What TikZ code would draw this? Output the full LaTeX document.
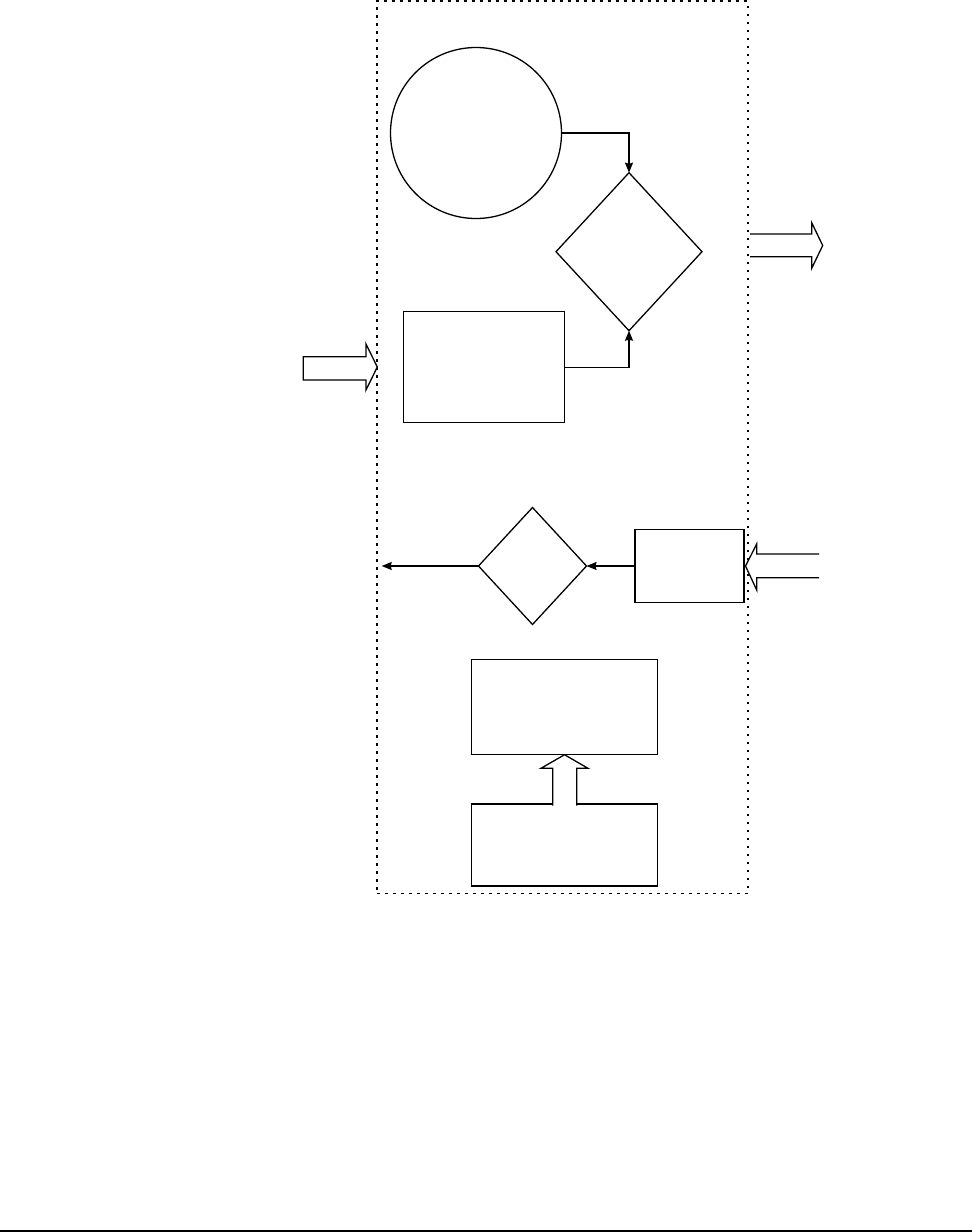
\documentclass[tikz,border=0pt]{standalone}
\usetikzlibrary{arrows.meta,shapes.geometric}

\begin{document}
\begin{tikzpicture}[
        x=1pt, y=-1pt,
        every node/.style = {outer sep=0pt, inner sep=0pt, line width=1.3pt},
        blockbox/.style = {rectangle, draw},
        decision/.style = {diamond, draw},
        frame/.style = {rectangle, draw, line width=1.5pt, dash pattern=on 2.5pt off 5.5pt},
        arrow/.style = {-{Stealth[length=10pt, width=8pt, inset=1pt]}, line width=1.3pt},
        bigarrow/.style = {draw, fill=white, line width=1.3pt}
        ]
        \useasboundingbox (0,0) rectangle (972,1232);

        \node[frame, minimum width=370.7pt, minimum height=892.3pt] (frame) at (562.4,447.2) {};

        % upper group
        \node[draw, circle, line width=1.3pt, minimum size=171pt] (start) at (476,133) {};
        \node[decision, minimum width=146pt, minimum height=158pt] (check) at (629,251.7) {};
        \node[blockbox, minimum width=161pt, minimum height=111pt] (input) at (483.8,367.2) {};
        \draw[arrow] (start.east) -| (check.north);
        \draw[arrow] (input.east) -| (check.south);

        % middle group
        \node[blockbox, minimum width=109pt, minimum height=73pt] (receive) at (689.5,566) {};
        \node[decision, minimum width=108pt, minimum height=117pt] (select) at (532.5,566) {};
        \coordinate (leave) at (381.7,566);
        \draw[arrow] (receive.west) -- (select.east);
        \draw[arrow] (select.west) -- (leave);

        % lower group
        \node[blockbox, minimum width=185.6pt, minimum height=95.4pt] (upper) at (564.5,707) {};
        \node[blockbox, minimum width=185.6pt, minimum height=82pt] (lower) at (564.5,845) {};
        \draw[bigarrow] (552.7,805.5) -- (552.7,768.3) -- (541,768.3) -- (upper.south)
                -- (588,768.3) -- (576.7,768.3) -- (576.7,805.5);

        % block arrows across the frame
        \draw[bigarrow] (303.3,356.7) -- (366,356.7) -- (366,344) -- (377.3,367)
                -- (366,390) -- (366,380) -- (303.3,380) -- cycle;
        \draw[bigarrow] (750,234) -- (811.7,234) -- (811.7,222.7) -- (822.7,245.5)
                -- (811.7,268.3) -- (811.7,256.7) -- (750,256.7);
        \draw[bigarrow] (819,554) -- (756.7,554) -- (756.7,544) -- (745.5,566)
                -- (756.7,590) -- (756.7,577.7) -- (819,577.7);

        % rule at the foot of the page
        \coordinate (footL) at (0,1231);
        \coordinate (footR) at (972,1231);
        \draw[line width=1.5pt] (footL) -- (footR);
\end{tikzpicture}
\end{document}
